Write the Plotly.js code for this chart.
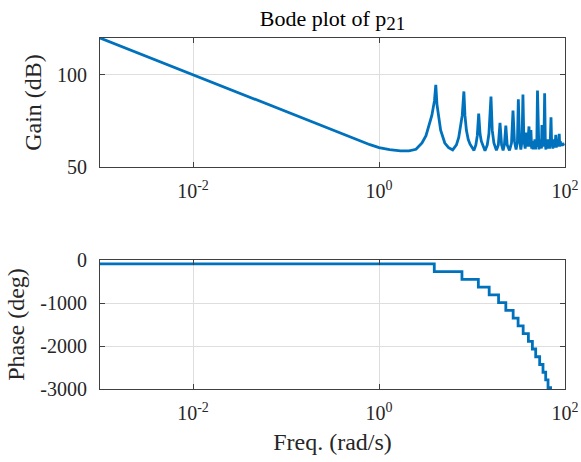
<!DOCTYPE html>
<html>
<head>
<meta charset="utf-8">
<script src="https://cdn.plot.ly/plotly-3.0.1.min.js"></script>
<style>html,body{margin:0;padding:0;background:#fff;}#chart{width:581px;height:462px;}</style>
</head>
<body>
<div id="chart"></div>
<script>
// Gain curve (rad/s, dB)
var gainFreq = [0.001,0.01,0.1,0.3,0.6,0.8,1,1.3,1.7,2.1,2.5,2.9,3.2,3.4,3.7,3.95,4.08,4.2,4.4,4.6,5.1,5.6,6.2,6.8,7.2,7.5,7.85,8.18,8.4,8.7,9.1,9.5,10.5,11.0,11.4,11.8,12.2,12.6,13.8,14.6,15.2,16.0,16.5,17.2,18.3,19.2,20.0,20.8,21.6,22.3,23.1,23.9,25.3,26.6,27.6,28.6,29.8,30.8,31.5,32.4,33.5,34.5,35.3,36.1,37.3,38.5,39.6,41,42,43,43.8,44.5,45.3,46,46.7,47.4,48.2,48.9,49.7,50.6,51.6,52.4,53.2,54,55,55.8,56.5,57.5,58.3,59.3,60.4,61.5,62.4,63.2,64.2,65.2,66.2,67.2,68.2,69.3,70.7,72,73,74,75,76,77,78,78.8,79.6,80.6,81.6,82.6,83.6,84.6,85.6,86.7,87.8,89,90.2,91.5,93,94.5,96,97.5];
var gainDb = [120,100,80,70.5,64.4,62.1,60.5,59.4,58.8,58.8,59.6,63,67,72,78,86,94.6,84,76,70,63,60.5,59.3,62,66,71,78,91,78,70,65,62.5,59,62,67,79,68,64,58.8,62,68,88.2,70,63,59,62,74,62,59,62,72.5,62,59,63,80.6,64,59.5,64,86.8,65,59.5,64,89.3,65,60,68.6,61,72,61,70,60,64,59.5,63,60,65,59.5,64,61,91.5,62,59.5,64,60,65,60,72.8,61,64,62,90,62,59.5,64,60,65,60.5,64,60,63,77,61,65,60,64,60.5,65,61,64,67.4,60.5,64,61,65,61.5,64,68,61,64,62,63,61.5,63,62,61.5,62];

// Phase staircase (rad/s, deg): phase level after each step frequency
var phaseFreq = [0.001,3.93,7.8,11.7,15.3,19.3,23.1,27.7,31.3,35.5,40.4,44.6,48.4,53.4,58,62,65.7,70,100];
var phaseDeg = [-90,-270,-450,-630,-810,-990,-1170,-1350,-1530,-1710,-1890,-2070,-2250,-2430,-2610,-2790,-2970,-3150,-3150];

var xTickVals = [0.01,1,100];
var xTickText = ['10<sup>-2</sup>','10<sup>0</sup>','10<sup>2</sup>'];
var gainTicks = [50,100];
var gainTickText = ['50','100'];
var phaseTicks = [0,-1000,-2000,-3000];
var phaseTickText = ['0','-1000','-2000','-3000'];

var blue = '#0072BD';
var font = 'Liberation Serif, Times New Roman, serif';

var traces = [
  {x: gainFreq, y: gainDb, type: 'scatter', mode: 'lines', line: {color: blue, width: 2.8}, xaxis: 'x', yaxis: 'y', hoverinfo: 'skip'},
  {x: phaseFreq, y: phaseDeg, type: 'scatter', mode: 'lines', line: {color: blue, width: 2.8, shape: 'hv'}, xaxis: 'x2', yaxis: 'y2', hoverinfo: 'skip'}
];

function xAxis(anchor) {
  return {type: 'log', range: [-3, 2], tickvals: xTickVals, ticktext: xTickText, anchor: anchor,
    showgrid: true, gridcolor: '#dedede', gridwidth: 1, zeroline: false,
    showline: true, linecolor: '#404040', linewidth: 1, mirror: 'ticks',
    ticks: 'inside', ticklen: 5, tickcolor: '#404040', tickfont: {family: font, size: 20, color: '#262626'},
    ticklabelstandoff: 6};
}
function yAxis(anchor, range, ticks, text, title, domain) {
  return {range: range, tickvals: ticks, ticktext: text, anchor: anchor, domain: domain,
    showgrid: true, gridcolor: '#dedede', gridwidth: 1, zeroline: false,
    showline: true, linecolor: '#404040', linewidth: 1, mirror: 'ticks',
    ticks: 'inside', ticklen: 5, tickcolor: '#404040', tickfont: {family: font, size: 20, color: '#262626'},
    ticklabelstandoff: 8,
    title: {text: title, font: {family: font, size: 24, color: '#262626'}, standoff: 8}};
}

var xa1 = xAxis('y'); xa1.domain = [0, 1];
var xa2 = xAxis('y2'); xa2.domain = [0, 1];
xa2.title = {text: 'Freq. (rad/s)', font: {family: font, size: 24, color: '#262626'}, standoff: 10};

var layout = {
  width: 581, height: 462,
  margin: {l: 100, r: 16, t: 38, b: 73},
  paper_bgcolor: '#fff', plot_bgcolor: '#fff',
  showlegend: false,
  title: {text: 'Bode plot of p<sub><span style="font-size:19px">21</span></sub>', font: {family: font, size: 22, color: '#000'},
    x: 0.5, xref: 'paper', y: 0.978, yref: 'container', yanchor: 'top'},
  xaxis: xa1,
  yaxis: yAxis('x', [50, 120], gainTicks, gainTickText, 'Gain (dB)', [0.6325, 1]),
  xaxis2: xa2,
  yaxis2: yAxis('x2', [-3000, 0], phaseTicks, phaseTickText, 'Phase (deg)', [0, 0.3675])
};

Plotly.newPlot('chart', traces, layout, {staticPlot: true, displayModeBar: false});
</script>
</body>
</html>
